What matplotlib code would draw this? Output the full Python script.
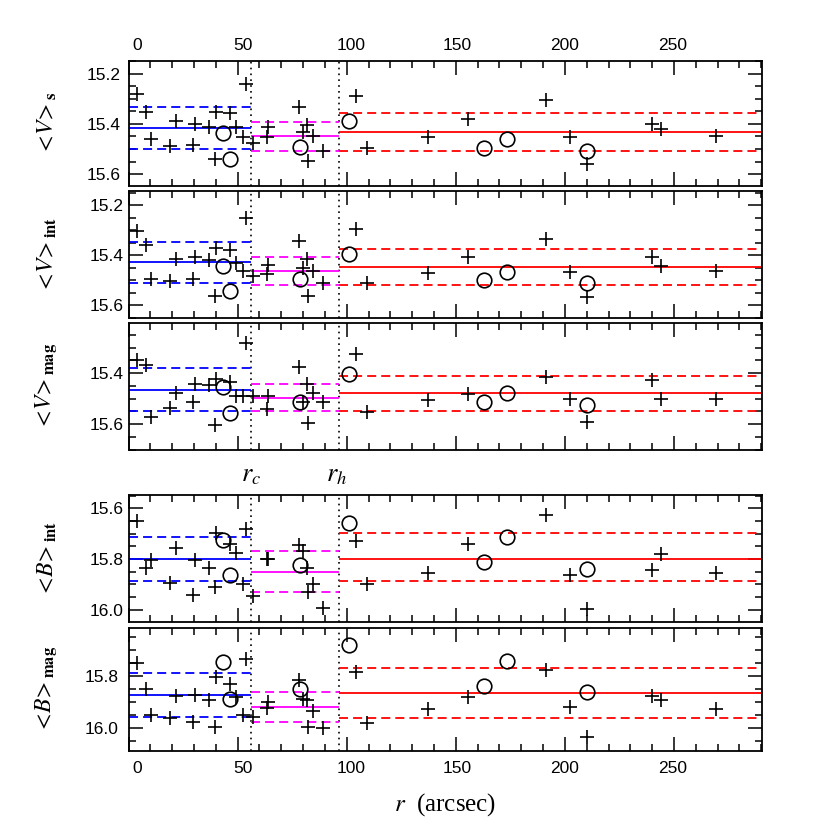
import matplotlib
matplotlib.use("Agg")
import matplotlib.pyplot as plt
from matplotlib.ticker import MultipleLocator
import matplotlib.transforms as mtransforms

# ---------------- data ----------------
r_c = 56.0
r_h = 96.5

x_plus = [4.0, 7.8, 10.1, 19.1, 21.6, 29.7, 30.5, 36.7, 39.6, 40.1, 46.5, 49.3, 52.6, 53.9, 57.0,
          63.3, 64.1, 78.3, 80.1, 81.9, 82.4, 84.4, 89.3,
          104.3, 109.2, 137.4, 155.7, 191.3, 202.3, 210.0, 239.8, 243.9, 269.3]
x_circ = [43.5, 46.6, 78.7, 101.2, 162.9, 173.6, 210.3]

labels = [r'$<\!V\!>_{\mathbf{s}}$', r'$<\!V\!>_{\mathbf{int}}$', r'$<\!V\!>_{\mathbf{mag}}$',
          r'$<\!B\!>_{\mathbf{int}}$', r'$<\!B\!>_{\mathbf{mag}}$']

y_plus_Vs = [15.282, 15.352, 15.462, 15.489, 15.388, 15.485, 15.399, 15.412, 15.538, 15.352, 15.356,
             15.412, 15.452, 15.242, 15.476,
             15.454, 15.412, 15.333, 15.432, 15.405, 15.547, 15.449, 15.507,
             15.290, 15.494, 15.454, 15.379, 15.306, 15.454, 15.558, 15.401, 15.420, 15.449]
y_circ_Vs = [15.438, 15.538, 15.491, 15.388, 15.496, 15.461, 15.508]
lines_Vs = [(15.415, 15.332, 15.498), (15.449, 15.392, 15.507), (15.434, 15.357, 15.509)]

y_plus_Vint = [15.303, 15.360, 15.497, 15.503, 15.417, 15.497, 15.407, 15.420, 15.564, 15.373, 15.380,
               15.433, 15.464, 15.253, 15.484,
               15.476, 15.440, 15.343, 15.453, 15.417, 15.564, 15.463, 15.513,
               15.297, 15.513, 15.471, 15.407, 15.337, 15.467, 15.567, 15.409, 15.444, 15.463]
y_circ_Vint = [15.443, 15.543, 15.497, 15.396, 15.500, 15.467, 15.513]
lines_Vint = [(15.427, 15.347, 15.511), (15.463, 15.407, 15.520), (15.449, 15.376, 15.520)]

y_plus_Vmag = [15.348, 15.367, 15.570, 15.537, 15.478, 15.514, 15.443, 15.448, 15.605, 15.422, 15.433,
               15.491, 15.488, 15.282, 15.491,
               15.540, 15.491, 15.378, 15.514, 15.443, 15.596, 15.478, 15.514,
               15.325, 15.551, 15.505, 15.482, 15.417, 15.501, 15.592, 15.426, 15.501, 15.501]
y_circ_Vmag = [15.456, 15.557, 15.514, 15.404, 15.514, 15.478, 15.524]
lines_Vmag = [(15.465, 15.380, 15.550), (15.498, 15.443, 15.550), (15.478, 15.413, 15.548)]

y_plus_Bint = [15.649, 15.834, 15.802, 15.894, 15.758, 15.943, 15.802, 15.834, 15.910, 15.696, 15.739,
               15.776, 15.897, 15.683, 15.947,
               15.798, 15.800, 15.745, 15.768, 15.834, 15.930, 15.900, 15.993,
               15.729, 15.900, 15.855, 15.739, 15.627, 15.864, 15.996, 15.842, 15.781, 15.857]
y_circ_Bint = [15.723, 15.864, 15.824, 15.657, 15.811, 15.712, 15.838]
lines_Bint = [(15.800, 15.712, 15.886), (15.851, 15.769, 15.930), (15.801, 15.699, 15.887)]

y_plus_Bmag = [15.751, 15.852, 15.951, 15.964, 15.877, 15.977, 15.874, 15.893, 15.996, 15.805, 15.831,
               15.883, 15.951, 15.735, 15.960,
               15.925, 15.899, 15.815, 15.890, 15.893, 15.999, 15.934, 16.003,
               15.783, 15.983, 15.929, 15.880, 15.777, 15.921, 16.035, 15.877, 15.893, 15.929]
y_circ_Bmag = [15.745, 15.890, 15.852, 15.680, 15.839, 15.741, 15.861]
lines_Bmag = [(15.874, 15.790, 15.957), (15.919, 15.861, 15.977), (15.865, 15.770, 15.964)]

panels_plus = [y_plus_Vs, y_plus_Vint, y_plus_Vmag, y_plus_Bint, y_plus_Bmag]
panels_circ = [y_circ_Vs, y_circ_Vint, y_circ_Vmag, y_circ_Bint, y_circ_Bmag]
panels_lines = [lines_Vs, lines_Vint, lines_Vmag, lines_Bint, lines_Bmag]

# ---------------- layout ----------------
ylims = [(15.647, 15.150), (15.652, 15.143), (15.701, 15.204), (16.049, 15.547), (16.090, 15.615)]
# pixel boxes (top, bottom) in an 830 px figure
boxes = [(61, 186), (191, 318), (323, 450), (495, 622), (628, 751)]
XL, XR = 128.5, 761.7
xlim = (0.0, 290.2)
# small horizontal shifts (px) of the x tick labels seen in the original
label_shift = {0: 9, 50: 5, 100: 4, 150: 1, 200: 0, 250: -1}

plt.rcParams['mathtext.fontset'] = 'stix'
plt.rcParams['font.family'] = ['Liberation Serif', 'DejaVu Serif']

fig = plt.figure(figsize=(8.3, 8.3), dpi=100)
W = 830.0
colors = ['#0000ff', '#ff00ff', '#ff0000']
zone_edges = [xlim[0], r_c, r_h, xlim[1]]
dash = (0, (5, 2.8))

axes = []
for i in range(5):
    top, bot = boxes[i]
    ax = fig.add_axes([XL / W, 1 - bot / W, (XR - XL) / W, (bot - top) / W])
    axes.append(ax)
    ax.set_xlim(*xlim)
    ax.set_ylim(*ylims[i])
    for k, (m, lo, hi) in enumerate(panels_lines[i]):
        x0, x1 = zone_edges[k], zone_edges[k + 1]
        ax.hlines(m, x0, x1, colors=colors[k], lw=1.3, zorder=2)
        ax.hlines([lo, hi], x0, x1, colors=colors[k], lw=1.3, linestyles=[dash], zorder=2)
    for xv in (r_c, r_h):
        ax.axvline(xv, color='black', ls=(0, (1, 2.5)), lw=1.2, zorder=1)
    ax.plot(x_plus, panels_plus[i], ls='none', marker='+', ms=10.5, mew=1.2, color='black', zorder=3)
    ax.plot(x_circ, panels_circ[i], ls='none', marker='o', ms=10.5, mew=1.2, mfc='none',
            mec='black', zorder=3)
    ax.xaxis.set_major_locator(MultipleLocator(50))
    ax.xaxis.set_minor_locator(MultipleLocator(10))
    ax.yaxis.set_major_locator(MultipleLocator(0.2))
    ax.yaxis.set_minor_locator(MultipleLocator(0.05))
    ax.tick_params(which='both', direction='in', top=True, right=True,
                   labelbottom=False, labeltop=False)
    ax.tick_params(which='major', length=10, width=1.1)
    ax.tick_params(which='minor', length=5, width=1.1)
    for sp in ax.spines.values():
        sp.set_linewidth(1.3)
    for lab in ax.get_yticklabels():
        lab.set_fontfamily('Liberation Sans')
        lab.set_fontsize(12.5)
    ax.set_ylabel(labels[i], fontsize=17)
    ax.yaxis.set_label_coords(-0.11, 0.5)

axes[0].tick_params(labeltop=True, pad=6)
axes[4].tick_params(labelbottom=True, pad=7)
for ax in (axes[0], axes[4]):
    for lab in ax.get_xticklabels():
        lab.set_fontfamily('Liberation Sans')
        lab.set_fontsize(12.5)

axes[4].set_xlabel(r'$r$  (arcsec)', fontsize=18)
axes[4].xaxis.set_label_coords(0.5, -0.33)

trans = mtransforms.blended_transform_factory(axes[3].transData, axes[3].transAxes)
axes[3].text(r_c, 1.15, r'$\boldsymbol{r_c}$', transform=trans, ha='center', va='center',
             fontsize=19)
axes[3].text(r_h - 1, 1.15, r'$\boldsymbol{r_h}$', transform=trans, ha='center', va='center',
             fontsize=19)

fig.canvas.draw()
for ax in (axes[0], axes[4]):
    for tick in ax.xaxis.get_major_ticks():
        dx = label_shift.get(int(round(tick.get_loc())), 0)
        off = mtransforms.ScaledTranslation(dx / 100.0, 0, fig.dpi_scale_trans)
        for t in (tick.label1, tick.label2):
            t.set_transform(t.get_transform() + off)

fig.savefig('out.png', dpi=100)
